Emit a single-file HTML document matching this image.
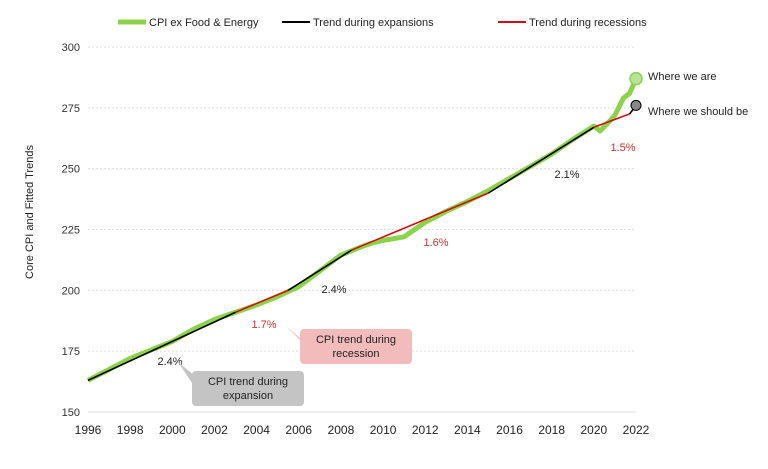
<!DOCTYPE html>
<html><head><meta charset="utf-8"><style>
body{margin:0;background:#fff;font-family:"Liberation Sans",sans-serif}
text{font-family:"Liberation Sans",sans-serif}
</style></head><body>
<svg id="chart" width="768" height="464"></svg>
<script>
const years=[1996,1997,1998,1999,2000,2001,2002,2003,2004,2005,2006,2007,2008,2009,2009.5,2010,2011,2012,2013,2014,2015,2016,2017,2018,2019,2020,2020.3,2020.8,2021,2021.4,2021.7,2022];
const cpi=[163,167.5,172,175.5,179,184,188,191,194,197.5,201.5,208,214.5,218,219.5,220.5,222,228,232.5,236.5,241,246,251,256,262,267.5,265.5,270,272,279,281,287];
const trendYears=[1996,2003,2005.5,2008.5,2015,2020,2021.7,2022];
const trendVals=[163,191,200,216.5,240,267,272.5,276];
const trendType=['exp','rec','exp','rec','exp','rec','exp'];
const yTicks=[150,175,200,225,250,275,300];
const xTicks=[1996,1998,2000,2002,2004,2006,2008,2010,2012,2014,2016,2018,2020,2022];
const svg=document.getElementById('chart');const NS='http://www.w3.org/2000/svg';
const X=v=>88+(v-1996)*548/26;const Y=v=>412-(v-150)*365/150;
function el(t,a,p){const e=document.createElementNS(NS,t);for(const k in a)e.setAttribute(k,a[k]);(p||svg).appendChild(e);return e;}
yTicks.forEach(t=>{const g=el('line',{x1:88,x2:636,y1:Y(t),y2:Y(t),stroke:t==150?'#ddd':'#ddd','stroke-dasharray':t==150?'':'2,2'});


const l=el('text',{x:80,y:Y(t)+4,'text-anchor':'end','font-size':11,fill:'#333'});l.textContent=t;

});
xTicks.forEach(t=>{const l=el('text',{x:X(t),y:434,'text-anchor':'middle','font-size':12,fill:'#222'});l.textContent=t;

});
const yt=el('text',{transform:'translate(33,212) rotate(-90)','text-anchor':'middle','font-size':11,fill:'#222'});yt.textContent='Core CPI and Fitted Trends';


const cp=el('polyline',{points:years.map((y,i)=>X(y)+','+Y(cpi[i])).join(' '),fill:'none',stroke:'#8cd24a','stroke-width':5,'stroke-linejoin':'round'});


trendType.forEach((t,i)=>{const s=el('line',{x1:X(trendYears[i]),y1:Y(trendVals[i]),x2:X(trendYears[i+1]),y2:Y(trendVals[i+1]),stroke:t=='exp'?'#000':'#d01010','stroke-width':1.6});

});
const c1=el('circle',{cx:X(years[years.length-1]),cy:Y(cpi[cpi.length-1]),r:6,fill:'#b8e49a',stroke:'#8cd24a','stroke-width':1.5});


const c2=el('circle',{cx:X(trendYears[trendYears.length-1]),cy:Y(trendVals[trendVals.length-1]),r:5,fill:'#888',stroke:'#000','stroke-width':1});


function txt(x,y,s,c,n,a){const t=el('text',{x:x,y:y,'font-size':11,fill:c,'text-anchor':a||'start'});t.textContent=s;

}
txt(648,80,'Where we are','#222','where-we-are-label');
txt(648,115,'Where we should be','#222','where-we-should-be-label');
txt(170,365,'2.4%','#222','rate-label','middle');
txt(264,328,'1.7%','#d03030','rate-label','middle');
txt(334,293,'2.4%','#222','rate-label','middle');
txt(436,246,'1.6%','#d03030','rate-label','middle');
txt(567,178,'2.1%','#222','rate-label','middle');
txt(623,151,'1.5%','#d03030','rate-label','middle');
// callouts
const p1=el('path',{d:'M300,338 L286,326 L305,345 Z',fill:'#f2bcbc'});
const r1=el('rect',{x:300,y:329,width:112,height:35,rx:4,fill:'#f2bcbc'});
txt(356,343,'CPI trend during','#222','callout-text','middle');txt(356,357,'recession','#222','callout-text','middle');
const p2=el('path',{d:'M195,376 L178,362 L198,392 Z',fill:'#c4c4c4'});
const r2=el('rect',{x:192,y:371,width:112,height:35,rx:4,fill:'#c4c4c4'});
txt(248,385,'CPI trend during','#222','callout-text','middle');txt(248,399,'expansion','#222','callout-text','middle');
// legend
[[118,'#8cd24a',5,'CPI ex Food & Energy'],[282,'#000',2,'Trend during expansions'],[498,'#d01010',2,'Trend during recessions']].forEach(l=>{
const ln=el('line',{x1:l[0],x2:l[0]+28,y1:22,y2:22,stroke:l[1],'stroke-width':l[2]});


txt(l[0]+31,26,l[3],'#222','legend-entry');});
</script>
</body></html>
